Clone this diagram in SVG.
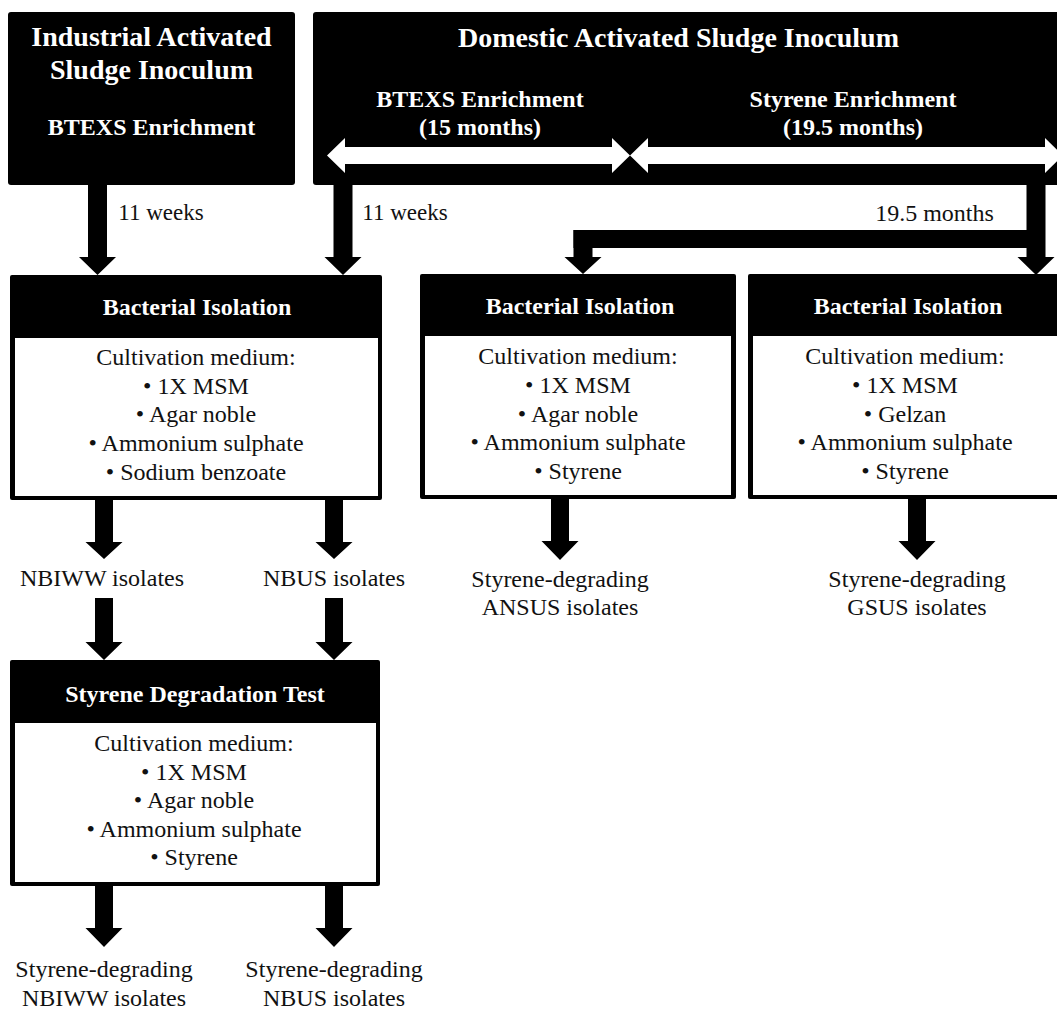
<svg xmlns="http://www.w3.org/2000/svg" width="1057" height="1010" viewBox="0 0 1057 1010">
<style>
text{font-family:"Liberation Serif","Times New Roman",serif;text-anchor:middle}
.hd{fill:#fff;font-weight:bold;font-size:24px}
.tt{fill:#fff;font-weight:bold;font-size:28px}
.bd{fill:#111;font-size:24px}
.lb{fill:#111;font-size:23px}
.blk{fill:#000}
.wh{fill:#fff}
.arr{fill:#000}
.warr{fill:#fff}
</style>
<rect width="1057" height="1010" fill="#fff"/>
<g id="industrial">
<rect class="blk" x="8" y="12" width="287" height="173" rx="3"/>
<text class="tt" x="151.5" y="46">Industrial Activated</text>
<text class="tt" x="151.5" y="79">Sludge Inoculum</text>
<text class="hd" x="151.5" y="135">BTEXS Enrichment</text>
</g>
<g id="domestic">
<rect class="blk" x="313" y="12" width="760" height="173" rx="3"/>
<text class="tt" x="678.5" y="47">Domestic Activated Sludge Inoculum</text>
<text class="hd" x="480" y="107">BTEXS Enrichment</text>
<text class="hd" x="480" y="135">(15 months)</text>
<text class="hd" x="853" y="107">Styrene Enrichment</text>
<text class="hd" x="853" y="135">(19.5 months)</text>
<polygon class="warr" points="327,155.5 345,138 345,147 612,147 612,138 630,155.5 612,173 612,164 345,164 345,173"/>
<polygon class="warr" points="630,155.5 648,138 648,147 1045,147 1045,138 1063,155.5 1045,173 1045,164 648,164 648,173"/>
</g>
<g id="isolation1">
<rect class="blk" x="10" y="275" width="372" height="225" rx="2"/>
<rect class="wh" x="15" y="338" width="363" height="158"/>
<text class="hd" x="197" y="315">Bacterial Isolation</text>
<text class="bd" x="196" y="365">Cultivation medium:</text>
<text class="bd" x="196" y="394">• 1X MSM</text>
<text class="bd" x="196" y="422">• Agar noble</text>
<text class="bd" x="196" y="451">• Ammonium sulphate</text>
<text class="bd" x="196" y="480">• Sodium benzoate</text>
</g>
<g id="isolation2">
<rect class="blk" x="420" y="274" width="316" height="225" rx="2"/>
<rect class="wh" x="425" y="336" width="306" height="159"/>
<text class="hd" x="580" y="314">Bacterial Isolation</text>
<text class="bd" x="578" y="364">Cultivation medium:</text>
<text class="bd" x="578" y="393">• 1X MSM</text>
<text class="bd" x="578" y="422">• Agar noble</text>
<text class="bd" x="578" y="450">• Ammonium sulphate</text>
<text class="bd" x="578" y="479">• Styrene</text>
</g>
<g id="isolation3">
<rect class="blk" x="748" y="274" width="325" height="225" rx="2"/>
<rect class="wh" x="753" y="336" width="320" height="159"/>
<text class="hd" x="908" y="314">Bacterial Isolation</text>
<text class="bd" x="905" y="364">Cultivation medium:</text>
<text class="bd" x="905" y="393">• 1X MSM</text>
<text class="bd" x="905" y="422">• Gelzan</text>
<text class="bd" x="905" y="450">• Ammonium sulphate</text>
<text class="bd" x="905" y="479">• Styrene</text>
</g>
<g id="degradation-test">
<rect class="blk" x="10" y="660" width="370" height="226" rx="2"/>
<rect class="wh" x="15" y="723" width="361" height="159"/>
<text class="hd" x="195" y="702">Styrene Degradation Test</text>
<text class="bd" x="194" y="751">Cultivation medium:</text>
<text class="bd" x="194" y="780">• 1X MSM</text>
<text class="bd" x="194" y="808">• Agar noble</text>
<text class="bd" x="194" y="837">• Ammonium sulphate</text>
<text class="bd" x="194" y="865">• Styrene</text>
</g>
<g id="labels">
<text class="bd" x="102" y="586">NBIWW isolates</text>
<text class="bd" x="334" y="586">NBUS isolates</text>
<text class="bd" x="560" y="587">Styrene-degrading</text>
<text class="bd" x="560" y="615">ANSUS isolates</text>
<text class="bd" x="917" y="587">Styrene-degrading</text>
<text class="bd" x="917" y="615">GSUS isolates</text>
<text class="bd" x="104" y="977">Styrene-degrading</text>
<text class="bd" x="104" y="1006">NBIWW isolates</text>
<text class="bd" x="334" y="977">Styrene-degrading</text>
<text class="bd" x="334" y="1006">NBUS isolates</text>
</g>
<g id="connectors">
<polygon class="arr" points="88,185 107,185 107,257 116,257 97.5,275 79,257 88,257"/>
<polygon class="arr" points="333.5,185 352.5,185 352.5,257 361.5,257 343,275 324.5,257 333.5,257"/>
<polygon class="arr" points="1026.5,185 1045.5,185 1045.5,257 1054.5,257 1036,275 1017.5,257 1026.5,257"/>
<rect class="arr" x="573.5" y="230" width="463" height="18"/>
<polygon class="arr" points="573.5,230 592.5,230 592.5,257 601.5,257 583,274 564.5,257 573.5,257"/>
<polygon class="arr" points="95,500 113,500 113,542 122.5,542 104,559 85.5,542 95,542"/>
<polygon class="arr" points="325,500 343,500 343,542 352.5,542 334,559 315.5,542 325,542"/>
<polygon class="arr" points="95,598 113,598 113,642 122.5,642 104,660 85.5,642 95,642"/>
<polygon class="arr" points="325,598 343,598 343,642 352.5,642 334,660 315.5,642 325,642"/>
<polygon class="arr" points="551,499 569,499 569,541 578.5,541 560,560 541.5,541 551,541"/>
<polygon class="arr" points="908,499 926,499 926,541 935.5,541 917,560 898.5,541 908,541"/>
<polygon class="arr" points="95,886 113,886 113,928 122.5,928 104,947 85.5,928 95,928"/>
<polygon class="arr" points="325,886 343,886 343,928 352.5,928 334,947 315.5,928 325,928"/>
<text class="lb" x="161" y="220">11 weeks</text>
<text class="lb" x="405" y="220">11 weeks</text>
<text class="bd" x="934.5" y="221">19.5 months</text>
</g>
</svg>
